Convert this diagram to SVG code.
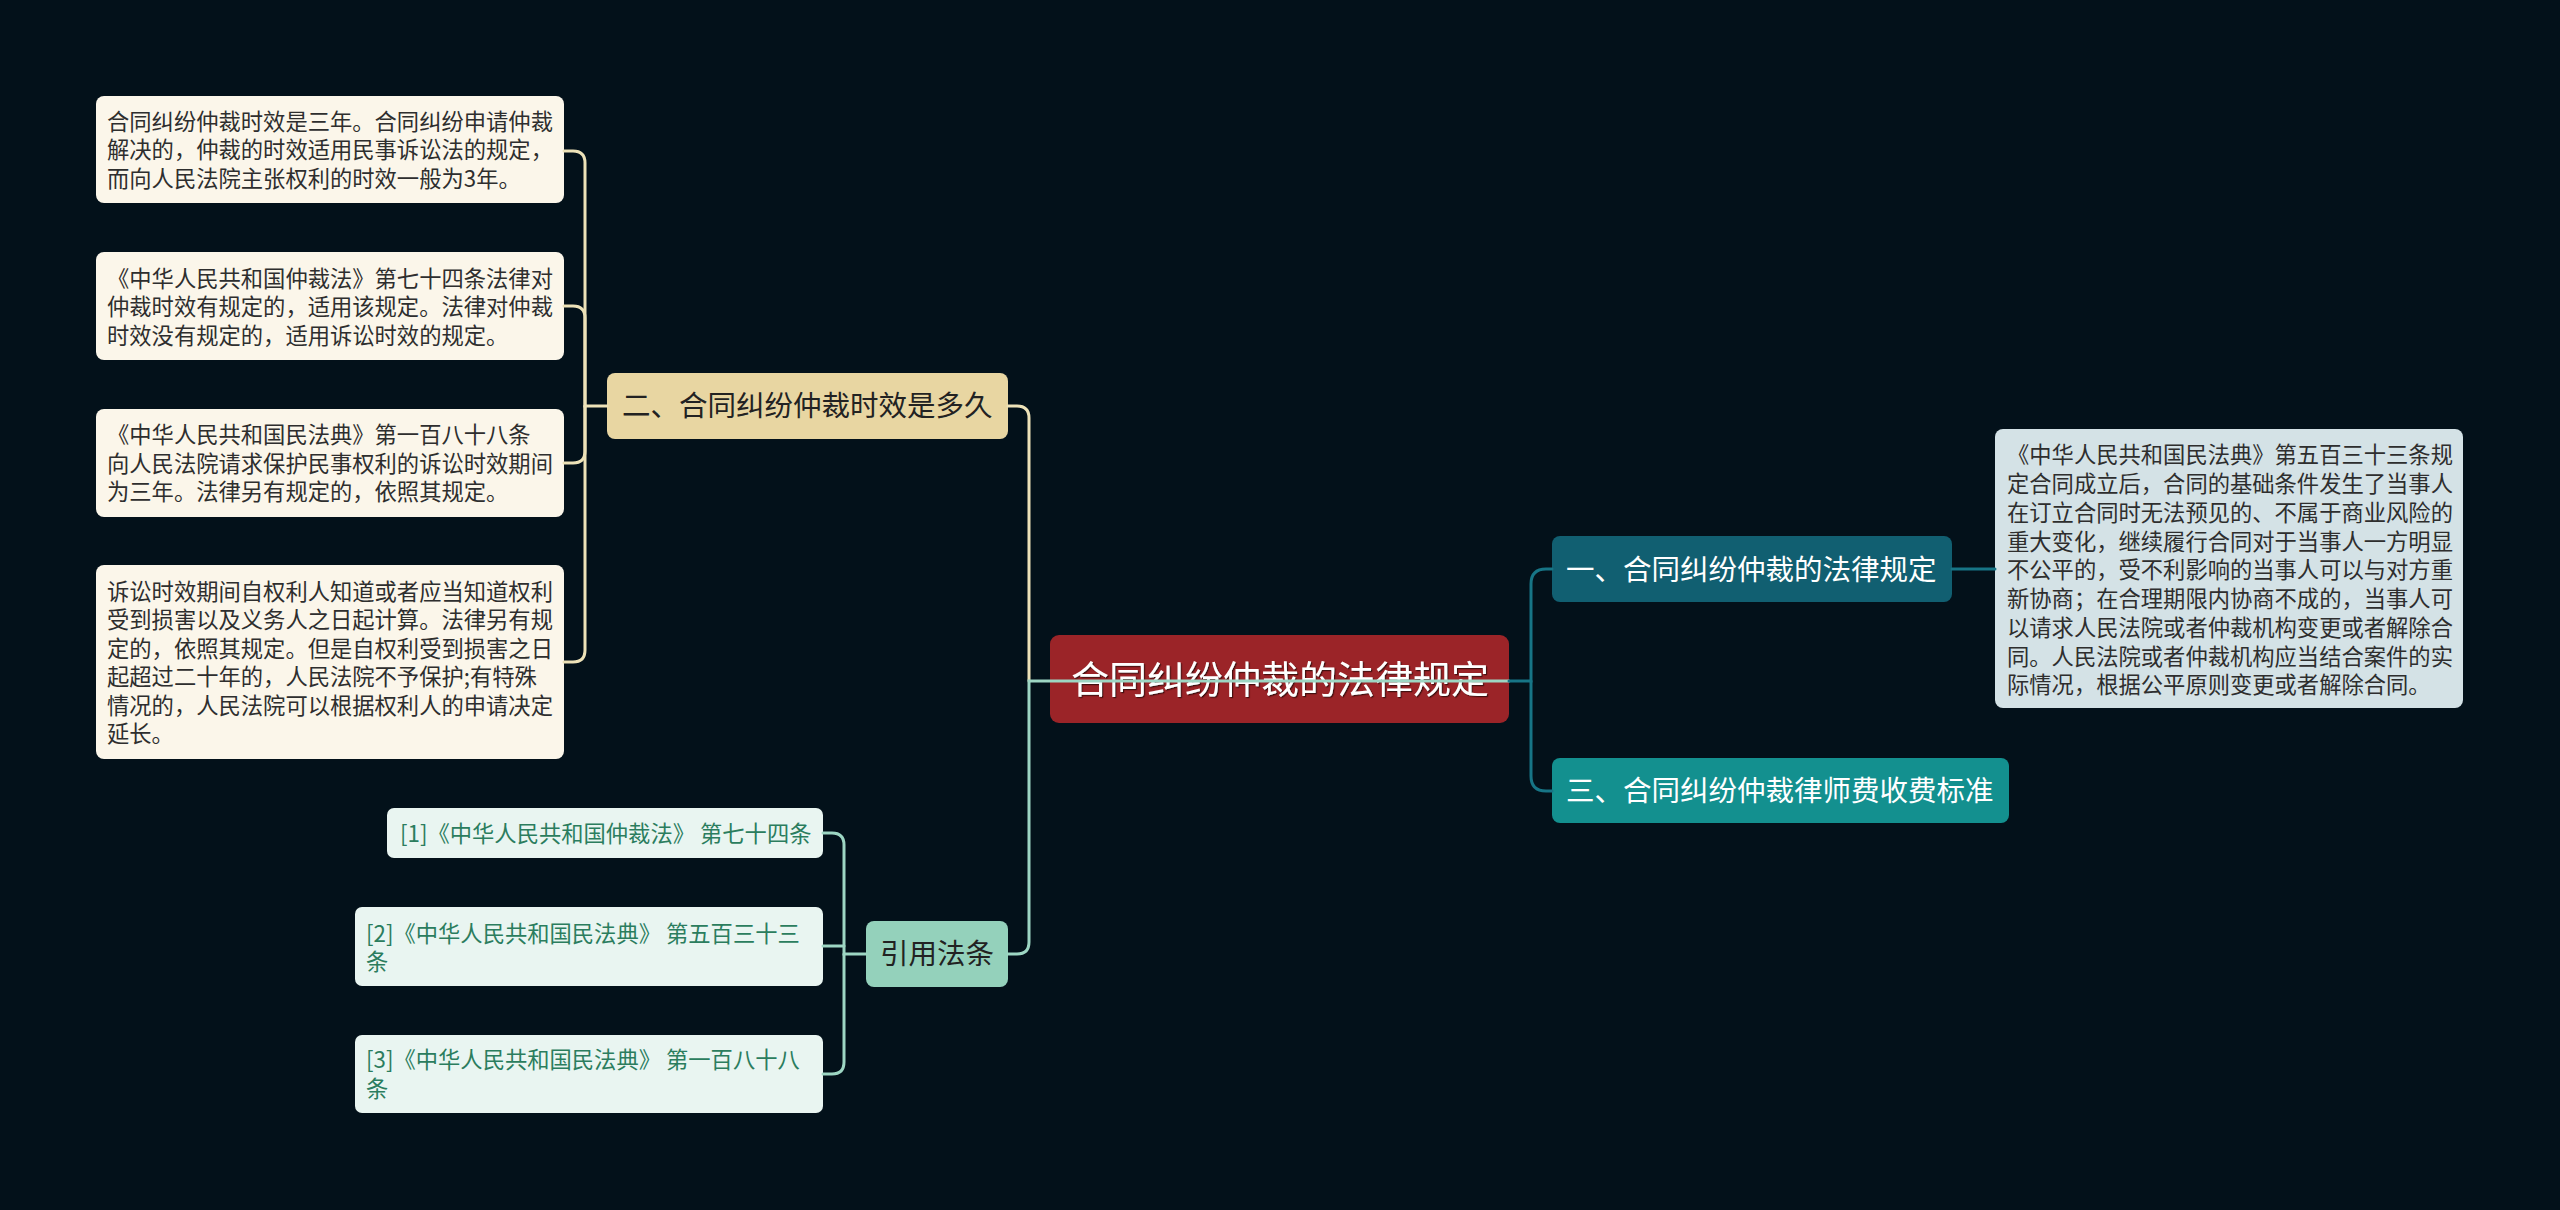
<svg xmlns="http://www.w3.org/2000/svg" width="2560" height="1210" viewBox="0 0 2560 1210">
<defs>
<style>
text{font-family:"Noto Sans CJK SC","Noto Sans",sans-serif;}
.note{fill:#fbf6ea;}
.nt{font-size:22.3px;fill:#2e2e2e;}
.ref{fill:#e9f5f1;}
.rt{font-size:22.3px;fill:#2b7d5e;}
.bt{font-size:28.5px;}
.ln{fill:none;stroke-width:3;stroke-linecap:round;}
.cream{stroke:#ede2b8;}
.mint{stroke:#9dd6c3;}
.teal{stroke:#177586;}
</style>
<filter id="sh" x="-5%" y="-20%" width="110%" height="140%">
<feDropShadow dx="1.2" dy="1.2" stdDeviation="0.6" flood-color="#3a0a0a" flood-opacity="0.9"/>
</filter>
</defs>
<rect width="2560" height="1210" fill="#03111a"/>

<g id="main">
<rect x="1050" y="635" width="459" height="88" rx="9" fill="#9b2428"/>
<text x="1071" y="693" font-size="38" fill="#ffffff" filter="url(#sh)">合同纠纷仲裁的法律规定</text>
</g>

<g id="b1">
<rect x="1552" y="536" width="400" height="66" rx="8" fill="#115f71"/>
<text class="bt" x="1566" y="580" fill="#ffffff">一、合同纠纷仲裁的法律规定</text>
</g>

<g id="b1d">
<rect x="1995" y="429" width="468" height="279" rx="8" fill="#d4e2e6"/>
<text class="nt" fill="#222">
<tspan x="2007" y="463">《中华人民共和国民法典》第五百三十三条规</tspan>
<tspan x="2007" y="492">定合同成立后，合同的基础条件发生了当事人</tspan>
<tspan x="2007" y="521">在订立合同时无法预见的、不属于商业风险的</tspan>
<tspan x="2007" y="550">重大变化，继续履行合同对于当事人一方明显</tspan>
<tspan x="2007" y="578">不公平的，受不利影响的当事人可以与对方重</tspan>
<tspan x="2007" y="607">新协商；在合理期限内协商不成的，当事人可</tspan>
<tspan x="2007" y="636">以请求人民法院或者仲裁机构变更或者解除合</tspan>
<tspan x="2007" y="665">同。人民法院或者仲裁机构应当结合案件的实</tspan>
<tspan x="2007" y="693">际情况，根据公平原则变更或者解除合同。</tspan>
</text>
</g>

<g id="b3">
<rect x="1552" y="758" width="457" height="65" rx="8" fill="#13908f"/>
<text class="bt" x="1566" y="801" fill="#ffffff">三、合同纠纷仲裁律师费收费标准</text>
</g>

<g id="b2">
<rect x="607" y="373" width="401" height="66" rx="8" fill="#e8d6a2"/>
<text class="bt" x="622" y="416" fill="#222">二、合同纠纷仲裁时效是多久</text>
</g>

<g id="n1">
<rect class="note" x="96" y="96" width="468" height="107" rx="8"/>
<text class="nt">
<tspan x="107" y="130">合同纠纷仲裁时效是三年。合同纠纷申请仲裁</tspan>
<tspan x="107" y="158">解决的，仲裁的时效适用民事诉讼法的规定，</tspan>
<tspan x="107" y="187">而向人民法院主张权利的时效一般为3年。</tspan>
</text>
</g>

<g id="n2">
<rect class="note" x="96" y="252" width="468" height="108" rx="8"/>
<text class="nt">
<tspan x="107" y="287">《中华人民共和国仲裁法》第七十四条法律对</tspan>
<tspan x="107" y="315">仲裁时效有规定的，适用该规定。法律对仲裁</tspan>
<tspan x="107" y="344">时效没有规定的，适用诉讼时效的规定。</tspan>
</text>
</g>

<g id="n3">
<rect class="note" x="96" y="409" width="468" height="108" rx="8"/>
<text class="nt">
<tspan x="107" y="443">《中华人民共和国民法典》第一百八十八条</tspan>
<tspan x="107" y="472">向人民法院请求保护民事权利的诉讼时效期间</tspan>
<tspan x="107" y="500">为三年。法律另有规定的，依照其规定。</tspan>
</text>
</g>

<g id="n4">
<rect class="note" x="96" y="565" width="468" height="194" rx="8"/>
<text class="nt">
<tspan x="107" y="600">诉讼时效期间自权利人知道或者应当知道权利</tspan>
<tspan x="107" y="628">受到损害以及义务人之日起计算。法律另有规</tspan>
<tspan x="107" y="657">定的，依照其规定。但是自权利受到损害之日</tspan>
<tspan x="107" y="685">起超过二十年的，人民法院不予保护;有特殊</tspan>
<tspan x="107" y="714">情况的，人民法院可以根据权利人的申请决定</tspan>
<tspan x="107" y="742">延长。</tspan>
</text>
</g>

<g id="b4">
<rect x="866" y="921" width="142" height="66" rx="8" fill="#94d1bb"/>
<text class="bt" x="880" y="964" fill="#222">引用法条</text>
</g>

<g id="r1">
<rect class="ref" x="387" y="808" width="436" height="50" rx="7"/>
<text class="rt" x="400" y="842">[1]《中华人民共和国仲裁法》 第七十四条</text>
</g>

<g id="r2">
<rect class="ref" x="355" y="907" width="468" height="79" rx="7"/>
<text class="rt"><tspan x="366" y="942">[2]《中华人民共和国民法典》 第五百三十三</tspan><tspan x="366" y="970">条</tspan></text>
</g>

<g id="r3">
<rect class="ref" x="355" y="1035" width="468" height="78" rx="7"/>
<text class="rt"><tspan x="366" y="1068">[3]《中华人民共和国民法典》 第一百八十八</tspan><tspan x="366" y="1097">条</tspan></text>
</g>

<g id="connectors">
<path class="ln cream" d="M1029 681 V418 Q1029 406 1017 406 H1008"/>
<path class="ln cream" d="M607 406 H585 V163 Q585 151 573 151 H564"/>
<path class="ln cream" d="M585 406 V318 Q585 306 573 306 H564"/>
<path class="ln cream" d="M585 406 V451 Q585 463 573 463 H564"/>
<path class="ln cream" d="M585 406 V650 Q585 662 573 662 H564"/>
<path class="ln mint" d="M1509 681 H1029 V942 Q1029 954 1017 954 H1008"/>
<path class="ln mint" d="M866 954 H844 V845 Q844 833 832 833 H823"/>
<path class="ln mint" d="M844 946 H823"/>
<path class="ln mint" d="M844 954 V1062 Q844 1074 832 1074 H823"/>
<path class="ln teal" d="M1509 681 H1531 V584 Q1531 569 1546 569 H1552"/>
<path class="ln teal" d="M1531 681 V776 Q1531 791 1546 791 H1552"/>
<path class="ln teal" d="M1952 569 H1995"/>
</g>
</svg>
